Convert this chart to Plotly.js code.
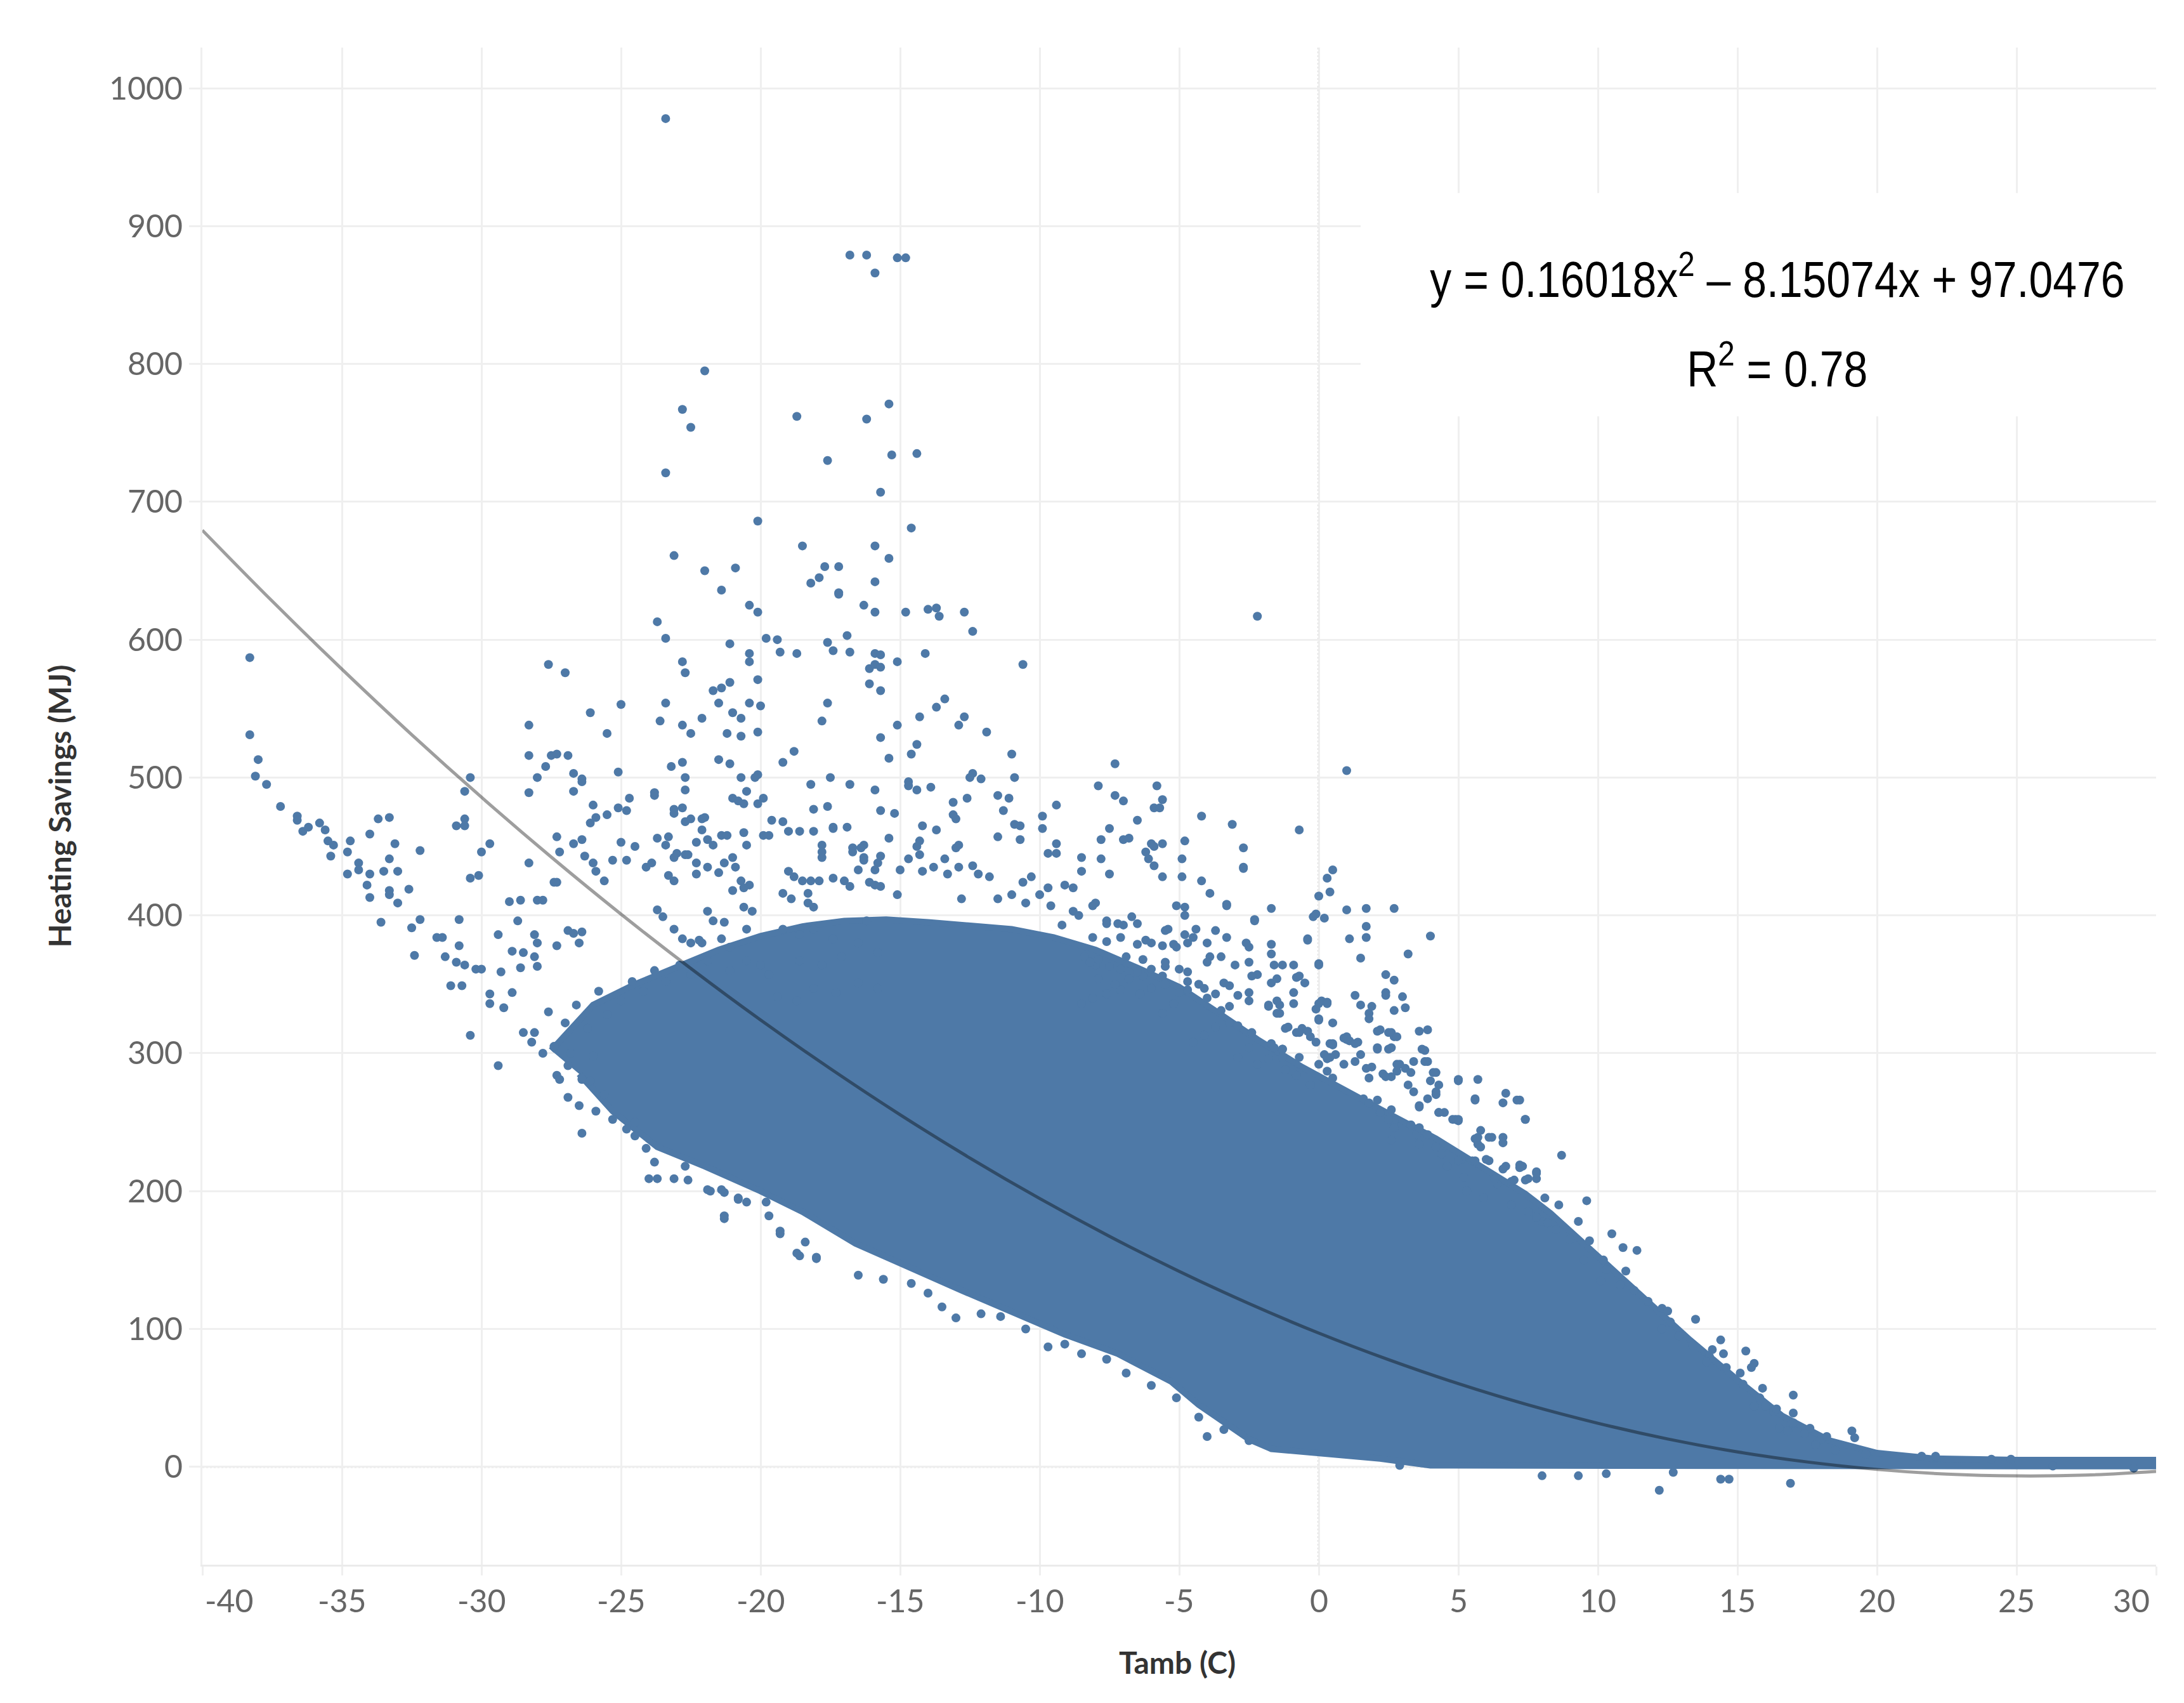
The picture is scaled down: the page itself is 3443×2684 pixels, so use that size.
<!DOCTYPE html>
<html>
<head>
<meta charset="utf-8">
<script src="https://cdn.plot.ly/plotly-3.0.1.min.js"></script>
<style>html,body{margin:0;padding:0;background:#fff;}</style>
</head>
<body>
<div id="chart" style="width:3443px;height:2684px;"></div>
<script>
// ---------- DATA ----------
const xTickVals = [-40,-35,-30,-25,-20,-15,-10,-5,0,5,10,15,20,25,30];
const xTickText = ["-40","-35","-30","-25","-20","-15","-10","-5","0","5","10","15","20","25","30"];
const yTickVals = [0,100,200,300,400,500,600,700,800,900,1000];

// Dense core of the cloud (outline, Tamb °C / MJ)
const coreX = [-27.5,-26,-24.5,-23,-21.5,-20,-18.5,-17,-15.5,-14,-12.5,-11,-9.5,-8,-6.5,-5,-3.8,-2.2,-0.6,1,2.6,4.2,5.8,7.4,8.3,10,11.7,13.3,15,16.6,18.3,20,22,25,30,
               30,25,20,15,10,5,4,2.2,0.3,-1.7,-2.5,-3.4,-4.3,-5.3,-7.2,-9.1,-11,-12.8,-14.7,-16.6,-18.5,-20,-22,-23.7,-25.3,-26.5];
const coreY = [302,335,350,362,375,385,392,396,397,395,393,390,384,375,362,348,332,310,290,272,255,238,218,198,184,153,121,92,63,37,19,10,6,5,5,
               0.5,0.5,0.5,0.5,0.5,0.5,1,6,9,13,20,32,45,62,82,96,112,128,145,162,185,200,218,232,258,285];

// Individual points: far left sparse tail
const ptsLeft = [[-38.3,587],[-38.3,531],[-38.0,513],[-38.1,501],[-37.7,495],[-37.2,479],[-36.6,472],[-36.6,469],[-36.4,461],[-36.2,464],[-35.8,467],[-35.6,462],[-35.5,454],[-35.3,451],[-35.4,443],[-34.7,454],[-34.8,446],[-34.8,430],[-34.4,438],[-34.4,433],[-34.0,459],[-33.7,470],[-33.3,471],[-33.1,452],[-33.3,441],[-33.5,432],[-33.0,432],[-34.0,430],[-34.1,422],[-34.0,413],[-33.3,418],[-33.3,415],[-33.0,409],[-32.6,419],[-32.2,447],[-33.6,395],[-32.5,391],[-32.2,397],[-32.4,371],[-31.6,384],[-31.4,384],[-30.8,378],[-31.3,370],[-30.9,366],[-30.6,364],[-30.2,361],[-30.0,361],[-31.1,349],[-30.7,349],[-30.8,397],[-30.4,313],[-29.4,291],[-30.9,465],[-30.6,470],[-30.6,465],[-30.4,500],[-30.6,490],[-30.0,446],[-29.7,452],[-30.4,427],[-30.1,429]];

// Left-middle points
const ptsLeftMid = [[-28.3,538],[-28.3,516],[-28.3,489],[-28.0,500],[-27.7,508],[-27.5,516],[-27.3,517],[-26.9,516],[-27.6,582],[-27.0,576],[-26.7,503],[-26.4,499],[-26.7,490],[-26.4,497],[-26.1,547],[-25.5,532],[-25.0,553],[-25.1,504],[-26.0,480],[-25.9,471],[-26.1,467],[-25.5,473],[-25.1,478],[-24.7,485],[-24.8,476],[-27.3,457],[-27.2,446],[-26.7,452],[-26.4,455],[-28.3,438],[-26.3,443],[-26.0,438],[-25.9,432],[-25.6,425],[-25.3,440],[-25.0,453],[-24.8,440],[-24.5,450],[-24.1,435],[-23.9,438],[-29.0,410],[-28.6,411],[-28.0,411],[-27.8,411],[-27.4,424],[-27.3,424],[-29.4,386],[-28.7,396],[-28.1,386],[-28.0,380],[-28.1,370],[-28.0,363],[-28.9,374],[-28.5,373],[-27.3,378],[-26.9,389],[-26.7,387],[-26.4,388],[-26.5,380],[-29.3,359],[-28.6,362],[-28.9,344],[-29.7,343],[-29.7,336],[-29.2,333],[-28.5,315],[-28.2,308],[-28.1,315],[-27.3,284],[-27.2,281],[-26.9,291],[-26.4,281],[-26.1,280],[-26.4,242],[-25.3,252],[-24.8,245],[-24.5,250],[-24.5,240],[-24.1,231],[-23.8,221],[-24.0,209],[-23.7,209],[-23.1,209],[-22.7,218],[-22.6,208],[-21.8,200],[-21.3,199],[-21.3,180],[-20.8,195],[-20.5,192],[-19.7,182],[-19.3,169],[-18.6,153],[-18.0,151],
  [-27.6,330],[-27.0,322],[-26.6,335],[-26.2,318],[-25.8,345],[-25.5,328],[-25.0,338],[-24.6,352],[-24.2,345],[-23.8,360],[-23.4,352],[-27.8,300],[-27.4,305],[-26.8,300],[-26.0,298],[-26.9,268],[-26.5,262],[-25.9,258],[-25.6,270]];

// Upper-middle points (x -24 .. -15)
const ptsUpperMid = [[-23.8,487],[-23.1,477],[-23.1,474],[-22.8,478],[-22.7,468],[-22.5,470],[-22.1,470],[-22.0,471],[-22.1,462],[-22.3,453],[-21.9,455],[-21.7,451],[-21.4,458],[-21.2,458],[-23.7,456],[-23.3,457],[-23.4,451],[-23.0,445],[-22.7,444],[-22.6,444],[-22.3,438],[-21.9,435],[-22.3,430],[-23.1,442],[-23.3,429],[-23.1,425],[-21.5,431],[-21.3,438],[-21.0,442],[-20.9,435],[-20.7,425],[-20.4,422],[-21.0,418],[-20.6,420],[-20.6,460],[-20.5,451],[-19.9,458],[-20.6,481],[-21.0,485],[-20.8,483],[-20.5,490],[-20.1,481],[-19.9,485],[-19.7,458],[-19.6,469],[-19.2,468],[-19.0,461],[-18.6,461],[-18.1,461],[-18.8,428],[-18.5,425],[-18.2,425],[-17.9,425],[-17.4,427],[-17.0,425],[-16.8,421],[-19.0,432],[-19.2,416],[-18.9,412],[-18.3,416],[-18.3,409],[-18.1,406],[-17.8,442],[-17.8,451],[-17.8,446],[-17.4,463],[-16.9,464],[-18.1,477],[-17.6,479],[-17.4,464],[-16.7,449],[-16.7,446],[-16.3,451],[-16.3,442],[-15.8,438],[-15.7,443],[-16.5,433],[-16.1,424],[-15.7,421],[-20.6,406],[-20.3,403],[-20.5,390],[-21.9,403],[-21.7,396],[-21.3,395],[-21.4,383],[-21.1,377],[-22.1,380],[-22.8,383],[-22.5,380],[-22.2,382],[-23.1,390],[-23.5,399],[-23.7,404],[-22.9,364],[-22.5,357],[-21.9,367],[-21.1,360],[-20.5,367],[-20.0,364],[-19.7,357],[-19.2,390],[-18.6,386],[-18.1,390],[-17.4,383],[-18.6,367],[-17.8,364],[-17.1,370],[-16.5,380],[-15.8,373],[-16.2,396],[-19.4,341],[-18.7,338],[-18.1,347],[-17.3,344],[-16.5,351],[-15.8,347]];

// High outliers
const ptsHigh = [[-23.4,978],[-16.8,879],[-16.2,879],[-15.9,866],[-15.1,877],[-14.8,877],[-22.0,795],[-22.8,767],[-22.5,754],[-23.4,721],[-18.7,762],[-16.2,760],[-15.4,771],[-17.6,730],[-15.3,734],[-14.4,735],[-15.7,707],[-20.1,686],[-14.6,681],[-23.1,661],[-18.5,668],[-15.9,668],[-15.4,659],[-22.0,650],[-20.9,652],[-21.4,636],[-17.7,653],[-17.2,653],[-18.2,641],[-17.9,645],[-17.2,634],[-17.2,633],[-15.9,642],[-20.4,625],[-20.1,620],[-16.3,625],[-15.9,620],[-14.8,620],[-14.0,622],[-13.7,623],[-13.6,617],[-12.7,620],[-12.4,606],[-23.7,613],[-23.4,601],[-2.2,617],[-21.1,597],[-19.8,601],[-19.4,600],[-20.4,590],[-20.4,584],[-19.3,591],[-18.7,590],[-17.6,598],[-17.4,592],[-16.9,603],[-16.8,591],[-15.9,590],[-15.7,589],[-16.1,579],[-15.9,582],[-15.7,580],[-15.1,584],[-14.1,590],[-10.6,582],[-22.8,584],[-22.7,576],[-20.1,571],[-21.1,569],[-21.4,565],[-21.7,563],[-16.1,568],[-15.7,563],[-23.4,554],[-23.6,541],[-21.5,554],[-22.1,543],[-20.4,554],[-20.0,552],[-21.0,547],[-20.7,543],[-17.6,554],[-17.8,541],[-22.8,538],[-22.5,532],[-21.2,532],[-20.7,530],[-20.1,533],[-18.8,519],[-19.2,511],[-15.7,529],[-15.1,538],[-15.4,514],[-14.3,544],[-13.7,551],[-13.4,557],[-12.9,538],[-12.7,544],[-11.9,533],[-11.0,517],[-10.9,500],[-21.5,513],[-22.8,511],[-23.2,508],[-21.1,510],[-20.7,500],[-20.1,502],[-20.2,500],[-14.6,517],[-14.4,524],[-12.4,503],[-12.5,500],[-12.1,499],[-7.3,510],[-7.9,494],[-5.8,494],[1.0,505],[-17.5,500],[-16.8,495],[-18.2,495],[-15.9,491],[-14.7,497],[-14.7,494],[-14.4,491],[-13.9,493],[-22.7,500],[-22.7,491],[-23.8,489]];

// Centre scattered points (x -16 .. 8)
const ptsCentre = [[-15.7,476],[-15.2,474],[-13.1,482],[-13.1,473],[-13.0,470],[-12.6,485],[-11.5,487],[-11.1,485],[-11.3,476],[-10.9,466],[-10.7,465],[-9.9,472],[-9.9,463],[-9.4,480],[-11.5,457],[-10.7,455],[-15.4,456],[-14.2,465],[-13.7,462],[-14.3,454],[-14.4,450],[-14.3,444],[-12.9,451],[-13.0,449],[-7.3,487],[-7.0,483],[-5.6,484],[-5.9,478],[-5.7,478],[-6.5,469],[-7.5,463],[-7.8,455],[-7.0,455],[-6.8,456],[-9.4,452],[-9.4,445],[-9.7,445],[-8.5,442],[-8.5,432],[-7.8,441],[-7.5,430],[-6.0,452],[-5.9,450],[-5.6,452],[-6.2,446],[-6.1,441],[-5.9,436],[-5.6,428],[-4.8,454],[-4.2,472],[-4.9,441],[-4.9,428],[-3.1,466],[-2.7,449],[-2.7,435],[-0.7,462],[0.3,427],[0.5,433],[0.0,414],[0.4,417],[-0.2,399],[0.2,398],[-0.1,401],[-0.4,383],[0.0,365],[-1.7,405],[-2.3,397],[-3.3,408],[-4.2,425],[-3.9,416],[-5.1,407],[-4.8,406],[-4.8,400],[1.0,404],[1.7,405],[2.7,405],[1.1,383],[1.7,384],[1.7,392],[1.5,369],[3.2,372],[4.0,385],[2.4,357],[2.7,353],[2.4,344],[2.4,342],[1.3,342],[1.5,335],[1.9,334],[3.0,341],[3.1,333],[2.7,331],[0.1,338],[0.3,337],[0.0,325],[2.2,317],[2.6,315],[2.7,312],[2.1,304],[2.6,304],[3.6,316],[3.9,317],[3.7,303],[3.9,294],[0.9,311],[1.1,309],[1.4,308],[0.4,307],[2.8,292],[3.1,289],[3.3,286],[4.2,286],[4.0,280],[4.2,272],[5.0,281],[5.7,281],[5.6,267],[6.7,271],[7.2,266],[7.4,252],[6.1,239],[6.6,239],[4.9,252],[4.3,257],[3.6,262],[2.6,259],[2.7,251],[3.3,248],[3.5,241],[5.1,223],[5.5,222],[6.0,223],[6.7,218],[7.3,218],[7.8,214],[7.8,181],[5.6,238],[5.7,234],[-1.4,335],[-0.9,336],[-1.2,318],[-0.6,318],[-1.7,307],[-1.3,303],[0.2,299],[0.6,299]];

// Heavy band just above the core
const ptsBand = [[-16.4,449],[-16.3,440],[-15.9,433],[-15.9,422],[-15.1,415],[-15.0,433],[-14.7,441],[-14.2,432],[-13.8,435],[-13.4,441],[-13.3,430],[-12.9,435],[-12.8,412],[-12.4,436],[-12.2,430],[-11.8,428],[-11.5,412],[-11.0,415],[-10.6,424],[-10.5,409],[-10.3,428],[-10.0,415],[-9.7,420],[-9.1,422],[-8.8,420],[-9.6,407],[-9.2,393],[-8.8,403],[-8.0,409],[-7.6,396],[-7.0,393],[-6.7,399],[-6.2,382],[-5.4,390],[-5.1,377],[-4.4,390],[-4.0,380],[-3.5,370],[-3.0,364],[-2.5,377],[-2.2,357],[-1.7,351],[-1.3,364],[-0.9,344],[-0.5,351],[-0.1,332],[0.5,322],[1.0,312],[1.5,299],[1.9,290],[2.6,283],[3.2,277],[3.9,267],[4.5,257],[5.0,251],[5.8,244],[6.6,235],[7.2,219],[7.8,209],
  [5.3,200],[5.9,195],[6.4,205],[6.9,190],[7.5,185],[8.0,178],[8.5,172],[9.0,165],[8.6,190],[9.5,150],[10.2,150],[10.8,132],[11.3,128],[11.8,120],[12.3,100],[12.9,95],[13.4,88],[14.0,80],[14.6,72],[15.2,60],[15.8,50],[16.3,40],[17.0,32],[17.6,28],[18.0,20]];

// Heavy band, centre-right detail
const ptsBand2 = [[1.8,329],[1.8,325],[2.1,316],[2.5,315],[2.8,312],[3.8,302],[2.1,303],[2.5,303],[1.0,310],[1.3,307],[0.5,306],[0.4,297],[0.3,296],[2.9,292],[2.8,287],[2.3,285],[2.4,283],[3.4,294],[3.8,294],[4.1,286],[4.3,277],[5.0,280],[3.4,272],[3.6,261],[4.2,270],[4.3,257],[4.8,252],[5.0,252],[5.6,266],[6.6,264],[7.1,266],[7.4,252],[5.7,239],[6.2,239],[5.8,232],[5.0,222],[5.6,222],[6.1,222],[6.6,216],[7.2,217],[7.8,213],[6.3,209],[6.9,207],[7.4,208],[8.1,195],[7.8,181],[8.2,177],[8.7,226],[9.6,193],[9.3,178],[10.5,169],
  [-0.3,312],[-0.8,315],[-1.3,303],[-0.7,297],[-1.2,288],[-0.8,284],[-0.3,277],[0.0,292],[0.3,287],[0.5,282],[0.9,292],[1.3,294],[1.7,289],[1.8,282],[1.6,267],[1.8,264],[2.1,266],[2.2,257],[2.5,252],[2.7,246],[2.6,237],[3.3,248],[3.6,246],[3.9,241],[3.6,234],[4.2,232],[4.4,227],[4.6,218],
  [-1.6,304],[-1.3,297],[-1.8,296],[-2.2,292],[-2.5,304],[-2.9,297],[-2.9,320],[-2.4,315],[-3.2,322],[-3.7,319],[-4.1,313],[-4.5,308],[-3.5,331],[-3.2,334],[-2.5,338],[-1.8,334],[-1.5,338],[-1.4,329],[-1.1,319],[-0.7,315],[-0.4,316],[-0.1,308],[0.5,307],
  [-3.2,349],[-3.4,351],[-2.9,342],[-2.5,344],[-1.8,335],[-1.5,329],[-4.3,350],[-4.7,346],[-5.0,344],[-5.2,336],[-5.6,329],[-4.0,340],[-3.7,343],[-4.7,352],[-4.1,347],[-6.0,347],[-6.4,343],[-7.1,346],[-7.6,343],[-8.1,340],[-8.5,336],[-7.9,354],[-7.3,350],[-6.8,354],[-6.3,356],[-5.6,356],[-5.5,350],[-8.0,364],[-7.5,363],[-7.1,361],[-6.5,359],[-6.0,361],[-5.5,363],[-8.4,370],[-8.2,366],[-7.9,368],[-6.9,370],[-6.3,368],[-5.5,366],[-5.0,361],[-4.7,359],[-8.1,384],[-7.6,381],[-7.1,384],[-6.5,379],[-6.0,380],[-5.6,378],[-5.2,379],[-4.7,380],[-4.5,384],[-8.6,400],[-8.1,407],[-7.6,394],[-7.2,394],[-6.5,394],[-5.5,389],[-4.8,386],[-3.7,389],[-3.3,384],[-3.9,370],[-4.0,366],[-2.5,366],[-2.6,380],[-1.7,379],[-1.7,372],[-0.9,364],[-1.6,364],[-2.4,356],[-1.5,354],[-0.8,355],[-0.7,356],[-0.4,382],[0.0,364],[0.0,336],[0.3,336],[0.0,324],[-2.3,396],[-2.7,434],[-3.3,407]];

// Right side points
const ptsRight = [[9.7,164],[10.9,159],[11.4,157],[11.0,142],[10.3,143],[10.1,135],[13.5,107],[12.3,115],[12.5,113],[12.6,105],[14.4,92],[14.5,82],[14.1,85],[13.9,76],[15.3,84],[15.6,75],[15.5,72],[15.1,68],[15.9,57],[17.0,52],[17.0,39],[15.6,44],[16.0,44],[16.4,42],[16.5,28],[16.8,26],[17.4,24],[18.2,22],[17.8,16],[19.1,26],[19.2,21],[18.5,12],[19.5,10],[19.6,9],[7.5,209],[7.0,208],[5.2,210],[8.0,-6.5],[9.3,-6.5],[10.3,-5],[12.2,-17],[14.4,-9],[14.7,-9],[16.9,-12],[12.7,-4],[21.6,7.7],[22.1,7.7],[24.1,5.5],[24.8,5.5],[26.3,0.6],[29.2,-1]];

// Lower edge points
const ptsLower = [[-21.3,182],[-21.9,201],[-21.4,201],[-20.8,194],[-19.8,192],[-19.3,171],[-18.7,155],[-18.0,152],[-18.4,163],[-16.5,139],[-15.6,136],[-14.6,133],[-14.0,126],[-13.5,116],[-13.0,108],[-12.1,111],[-11.4,109],[-10.5,100],[-9.7,87],[-9.1,89],[-8.5,82],[-7.6,78],[-6.9,68],[-6.0,59],[-5.1,50],[-4.3,36],[-4.0,22],[-3.4,27],[-2.5,19],[2.9,1]];

// Quadratic trend line values (as printed on the chart)
const fitX = [-40,-37.5,-35,-32.5,-30,-27.5,-25,-22.5,-20,-17.5,-15,-12.5,-10,-7.5,-5,-2.5,0,2.5,5,7.5,10,12.5,15,17.5,20,22.5,25,27.5,30];
const fitY = [679.4,628.0,578.6,531.1,485.7,442.3,400.9,361.5,324.1,288.8,255.4,224.0,194.6,167.2,141.8,118.4,97.0,77.7,60.3,44.9,31.6,20.2,10.8,3.5,-1.9,-5.3,-6.6,-6.0,-3.3];

const eqText = 'y = 0.16018x<sup>2</sup> \u2013 8.15074x + 97.0476';
const r2Text = 'R<sup>2</sup> = 0.78';

// ---------- BUILD ----------
const allPts = [].concat(ptsLeft, ptsLeftMid, ptsUpperMid, ptsHigh, ptsCentre, ptsBand, ptsBand2, ptsRight, ptsLower);
const BLUE = '#4e79a7';
const GRID = '#efefef';
const LBL = 'Lato, "Open Sans", sans-serif';
const NARROW = '"Liberation Sans Narrow", "Arial Narrow", "Liberation Sans", Arial, sans-serif';

const traces = [
  {x: coreX, y: coreY, type: 'scatter', mode: 'lines', fill: 'toself',
   fillcolor: BLUE, line: {color: BLUE, width: 10}, hoverinfo: 'skip'},
  {x: allPts.map(p => p[0]), y: allPts.map(p => p[1]), type: 'scatter', mode: 'markers',
   marker: {size: 14, color: BLUE}, hoverinfo: 'skip'},
  {x: fitX, y: fitY, type: 'scatter', mode: 'lines',
   line: {color: 'rgba(0,0,0,0.38)', width: 5, shape: 'spline'}, hoverinfo: 'skip'}
];

const annotations = xTickVals.map((v, i) => ({
  x: v, xref: 'x', y: -0.0234, yref: 'paper', text: xTickText[i], showarrow: false,
  xanchor: i === 0 ? 'left' : (i === xTickVals.length - 1 ? 'right' : 'center'),
  xshift: i === 0 ? 2 : (i === xTickVals.length - 1 ? -8 : 0),
  yanchor: 'middle', font: {family: LBL, size: 50, color: '#666666'}
}));
annotations.push(
  {x: 16.43, xref: 'x', y: 864, yref: 'y', text: eqText, showarrow: false, xanchor: 'center', yanchor: 'middle',
   font: {family: NARROW, size: 79, color: '#000000'}},
  {x: 16.43, xref: 'x', y: 799, yref: 'y', text: r2Text, showarrow: false, xanchor: 'center', yanchor: 'middle',
   font: {family: NARROW, size: 79, color: '#000000'}},
  {x: -0.0731, xref: 'paper', y: 0.5, yref: 'paper', text: 'Heating Savings (MJ)', textangle: -90, showarrow: false,
   xanchor: 'center', yanchor: 'middle', font: {family: LBL, size: 48, weight: 700, color: '#333333'}},
  {x: 0.499, xref: 'paper', y: -0.0644, yref: 'paper', text: 'Tamb (C)', showarrow: false,
   xanchor: 'center', yanchor: 'middle', font: {family: LBL, size: 48, weight: 700, color: '#333333'}}
);

const layout = {
  width: 3443, height: 2684,
  margin: {l: 319, r: 44, t: 75, b: 218},
  paper_bgcolor: '#ffffff', plot_bgcolor: '#ffffff',
  showlegend: false,
  xaxis: {range: [-40, 30], tickvals: xTickVals, showticklabels: false,
          showgrid: true, gridcolor: GRID, gridwidth: 3, zeroline: false,
          ticks: 'outside', ticklen: 14, tickwidth: 3, tickcolor: GRID,
          showline: true, linecolor: '#ebebeb', linewidth: 3},
  yaxis: {range: [-71, 1029.5], tickvals: yTickVals, showgrid: true, gridcolor: GRID, gridwidth: 3,
          zeroline: false, ticks: 'outside', ticklen: 18, tickwidth: 3, tickcolor: GRID,
          showline: true, linecolor: GRID, linewidth: 3,
          tickfont: {family: LBL, size: 50, color: '#666666'}},
  shapes: [
    {type: 'line', xref: 'paper', x0: 0, x1: 1, yref: 'y', y0: 0, y1: 0, layer: 'between',
     line: {color: '#bdbdbd', width: 3, dash: 'dot'}},
    {type: 'line', xref: 'x', x0: 0, x1: 0, yref: 'paper', y0: 0, y1: 1, layer: 'between',
     line: {color: '#bdbdbd', width: 3, dash: 'dot'}},
    {type: 'rect', xref: 'x', x0: 1.5, x1: 30, yref: 'y', y0: 762, y1: 924, layer: 'between',
     fillcolor: '#ffffff', line: {width: 0}}
  ],
  annotations: annotations
};

Plotly.newPlot('chart', traces, layout, {staticPlot: true, displayModeBar: false}).then(function () {
  // The reference uses a condensed face for the fit equation; narrow the two labels horizontally.
  document.querySelectorAll('#chart text.annotation-text').forEach(function (el) {
    const t = el.textContent || '';
    if (t.indexOf('y = ') === 0 || (t.indexOf('R') === 0 && t.indexOf('0.78') > 0)) {
      const b = el.getBBox();
      const cx = b.x + b.width / 2;
      const prev = el.getAttribute('transform') || '';
      el.setAttribute('transform', 'translate(' + cx + ',0) scale(0.86,1) translate(' + (-cx) + ',0) ' + prev);
    }
  });
});
</script>
</body>
</html>
